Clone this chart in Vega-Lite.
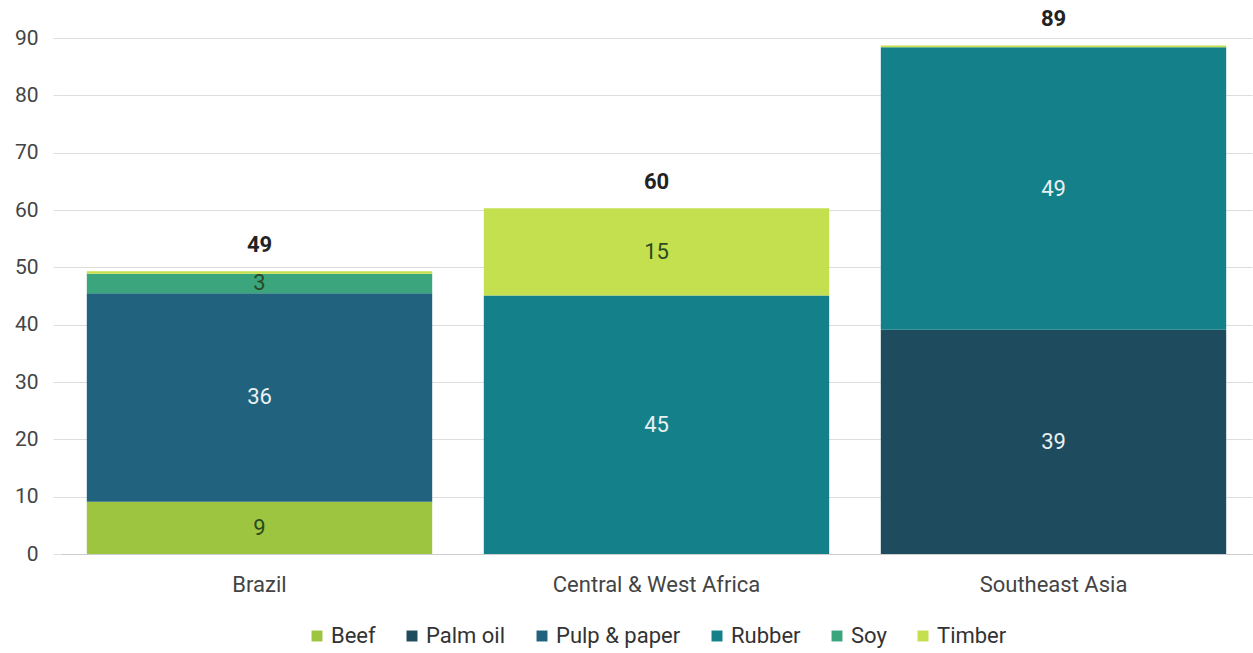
{
  "$schema": "https://vega.github.io/schema/vega-lite/v6.json",
  "width": 1191,
  "height": 516,
  "autosize": "none",
  "padding": {"left": 61, "top": 38, "right": 1, "bottom": 99},
  "background": "white",
  "config": {
    "font": "Roboto",
    "view": {"stroke": null},
    "axis": {"labelFont": "Roboto", "labelColor": "#444444"},
    "legend": {"layout": {"bottom": {"anchor": "middle"}}}
  },
  "data": {
    "values": [
      {"region": "Brazil", "commodity": "Beef", "value": 9.1},
      {"region": "Brazil", "commodity": "Pulp & paper", "value": 36.4},
      {"region": "Brazil", "commodity": "Soy", "value": 3.4},
      {"region": "Brazil", "commodity": "Timber", "value": 0.4},
      {"region": "Central & West Africa", "commodity": "Rubber", "value": 45.1},
      {"region": "Central & West Africa", "commodity": "Timber", "value": 15.2},
      {"region": "Southeast Asia", "commodity": "Palm oil", "value": 39.1},
      {"region": "Southeast Asia", "commodity": "Rubber", "value": 49.3},
      {"region": "Southeast Asia", "commodity": "Timber", "value": 0.3}
    ]
  },
  "encoding": {
    "x": {
      "field": "region", "type": "nominal", "title": null,
      "scale": {"paddingInner": 0.13, "paddingOuter": 0.065},
      "axis": {"labelAngle": 0, "ticks": false, "domainColor": "#cccccc", "labelPadding": 20, "grid": false, "labelFontSize": 22, "labelLimit": 0}
    }
  },
  "layer": [
    {
      "mark": {"type": "bar"},
      "encoding": {
        "y": {
          "field": "value", "type": "quantitative", "stack": "zero", "title": null,
          "scale": {"domain": [0, 90], "nice": false},
          "axis": {"values": [0,10,20,30,40,50,60,70,80,90], "domain": false, "tickColor": "#dddddd", "tickSize": 8, "labelPadding": 15, "gridColor": "#dddddd", "labelFontSize": 21}
        },
        "color": {
          "field": "commodity", "type": "nominal", "title": null,
          "scale": {
            "domain": ["Beef", "Palm oil", "Pulp & paper", "Rubber", "Soy", "Timber"],
            "range": ["#9dc53f", "#1f4b5e", "#21637f", "#13808a", "#3ba67e", "#c4e04f"]
          },
          "legend": {
            "orient": "bottom", "direction": "horizontal", "symbolType": "square",
            "symbolSize": 120, "labelFontSize": 22, "labelColor": "#333333",
            "labelFont": "Roboto", "columnPadding": 25, "symbolOffset": 0, "labelOffset": 3, "offset": 30
          }
        },
        "order": {"field": "commodity", "sort": "ascending"}
      }
    },
    {
      "transform": [
        {"stack": "value", "groupby": ["region"], "sort": [{"field": "commodity", "order": "ascending"}], "as": ["v0", "v1"]},
        {"calculate": "(datum.v0 + datum.v1) / 2", "as": "mid"},
        {"filter": "datum.value >= 2"}
      ],
      "mark": {"type": "text", "fontSize": 22, "baseline": "middle"},
      "encoding": {
        "y": {"field": "mid", "type": "quantitative"},
        "text": {"field": "value", "type": "quantitative", "format": ".0f"},
        "color": {
          "condition": {"test": "indexof(['Beef','Soy','Timber'], datum.commodity) >= 0", "value": "#2a4a22"},
          "value": "#e8f0f2"
        }
      }
    },
    {
      "transform": [
        {"aggregate": [{"op": "sum", "field": "value", "as": "total"}], "groupby": ["region"]}
      ],
      "mark": {"type": "text", "fontSize": 22, "fontWeight": "bold", "baseline": "middle", "dy": -26, "color": "#222222"},
      "encoding": {
        "y": {"field": "total", "type": "quantitative"},
        "text": {"field": "total", "type": "quantitative", "format": ".0f"}
      }
    }
  ]
}
